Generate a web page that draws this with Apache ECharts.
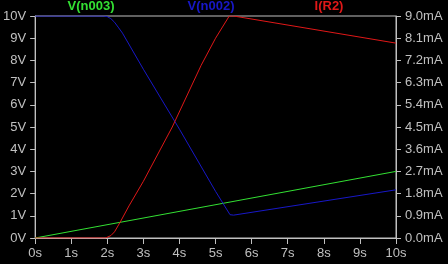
<!DOCTYPE html>
<html>
<head>
<meta charset="utf-8">
<script src="https://cdn.jsdelivr.net/npm/echarts@6/dist/echarts.min.js"></script>
<style>
  html, body { margin: 0; padding: 0; background: #000; }
  #chart { width: 448px; height: 264px; }
</style>
</head>
<body>
<div id="chart"></div>
<script>
// time (s), value pairs
const vN003 = [[0, 0], [10, 3.0]];
const vN002 = [
  [0, 10], [1.9, 10], [2.0, 9.97], [2.1, 9.88], [2.2, 9.72], [2.3, 9.5],
  [2.42, 9.23], [3.0, 7.6], [4.0, 4.9], [5.0, 2.1], [5.4, 1.05], [5.5, 1.03],
  [10, 2.17]
];
const iR2 = [
  [0, 0], [1.95, 0], [2.1, 0.1], [2.2, 0.25], [2.36, 0.65], [2.6, 1.3],
  [3.0, 2.3], [3.8, 4.5], [4.6, 7.0], [5.0, 8.1], [5.38, 9.0], [5.5, 9.0],
  [10, 7.9]
];
const seriesNames = ['V(n003)', 'V(n002)', 'I(R2)'];
const seriesColors = ['#33e033', '#1818c8', '#e01818'];

const axisGrey = '#c0c0c0';
const font = 'Liberation Sans, Arial, sans-serif';

const chart = echarts.init(document.getElementById('chart'));

const titleX = [91, 211, 329];
const option = {
  animation: false,
  backgroundColor: '#000',
  title: seriesNames.map((n, i) => ({
    text: n,
    left: titleX[i],
    top: 0,
    padding: 0,
    textAlign: 'center',
    textStyle: { color: seriesColors[i], fontSize: 13, fontWeight: 'bold', fontFamily: font }
  })),
  grid: {
    left: 32, right: 52, top: 16, bottom: 26,
    show: true, borderColor: axisGrey, borderWidth: 1, backgroundColor: '#000'
  },
  xAxis: {
    type: 'value', min: 0, max: 10, interval: 1,
    axisLine: { lineStyle: { color: axisGrey } },
    axisTick: { show: true, length: 6, lineStyle: { color: axisGrey } },
    axisLabel: { color: axisGrey, fontSize: 13, fontFamily: font, margin: 9, formatter: v => v + 's' },
    splitLine: { show: false }
  },
  yAxis: [
    {
      type: 'value', min: 0, max: 10, interval: 1,
      axisLine: { show: true, lineStyle: { color: axisGrey } },
      axisTick: { show: true, length: 5, lineStyle: { color: axisGrey } },
      axisLabel: { color: axisGrey, fontSize: 13, fontFamily: font, margin: 9, formatter: v => v + 'V' },
      splitLine: { show: false }
    },
    {
      type: 'value', min: 0, max: 9, interval: 0.9, position: 'right',
      axisLine: { show: true, lineStyle: { color: axisGrey } },
      axisTick: { show: true, length: 5, lineStyle: { color: axisGrey } },
      axisLabel: { color: axisGrey, fontSize: 13, fontFamily: font, margin: 9, formatter: v => v.toFixed(1) + 'mA' },
      splitLine: { show: false }
    }
  ],
  series: [
    { name: seriesNames[0], type: 'line', data: vN003, yAxisIndex: 0, showSymbol: false,
      lineStyle: { color: seriesColors[0], width: 1 } },
    { name: seriesNames[1], type: 'line', data: vN002, yAxisIndex: 0, showSymbol: false,
      lineStyle: { color: seriesColors[1], width: 1 } },
    { name: seriesNames[2], type: 'line', data: iR2, yAxisIndex: 1, showSymbol: false,
      lineStyle: { color: seriesColors[2], width: 1 } }
  ]
};

chart.setOption(option);
</script>
</body>
</html>
